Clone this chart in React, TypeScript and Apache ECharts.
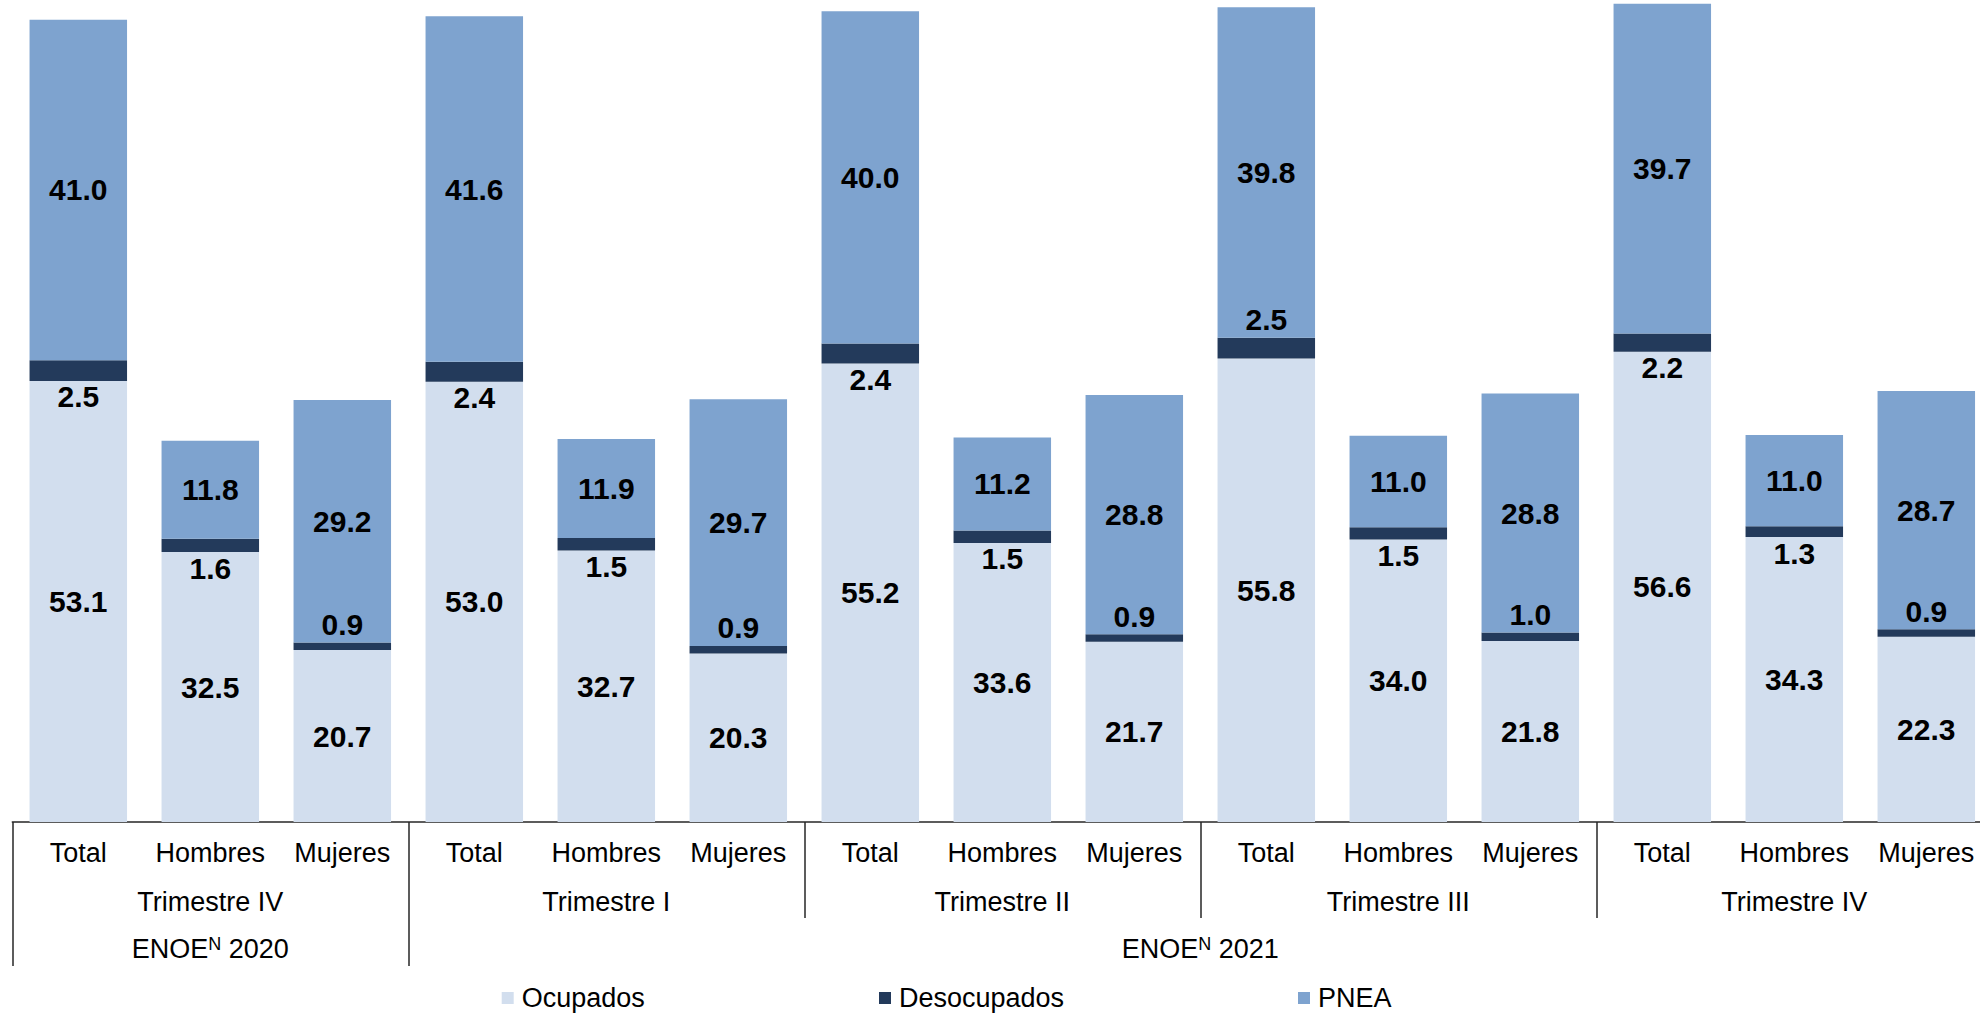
import React, { useEffect, useRef } from 'react';
import * as echarts from 'echarts';

// ---- data ----
const subgroups = ['Total', 'Hombres', 'Mujeres'];
const quarters = ['Trimestre IV', 'Trimestre I', 'Trimestre II', 'Trimestre III', 'Trimestre IV'];
const surveyYears = ['2020', '2021'];
const quartersPerYear = [1, 4];

const ocupados = [53.1, 32.5, 20.7, 53.0, 32.7, 20.3, 55.2, 33.6, 21.7, 55.8, 34.0, 21.8, 56.6, 34.3, 22.3];
const desocupados = [2.5, 1.6, 0.9, 2.4, 1.5, 0.9, 2.4, 1.5, 0.9, 2.5, 1.5, 1.0, 2.2, 1.3, 0.9];
const pnea = [41.0, 11.8, 29.2, 41.6, 11.9, 29.7, 40.0, 11.2, 28.8, 39.8, 11.0, 28.8, 39.7, 11.0, 28.7];
// where the Desocupados label sits relative to its thin bar
const desocupadosLabelAbove = [false, false, true, false, false, true, false, false, true, true, false, true, false, false, true];

const seriesNames = ['Ocupados', 'Desocupados', 'PNEA'];
const seriesColors = ['#D2DEEE', '#233A5B', '#7EA3CF'];

// ---- derived ----
const categories: string[] = [];
const quarterLabels: string[] = [];
quarters.forEach((q) => subgroups.forEach((s) => { categories.push(s); quarterLabels.push(q); }));
const nSub = subgroups.length;
const yearStarts: number[] = [];
const yearCenters: { c: number; label: string }[] = [];
{
  let acc = 0;
  surveyYears.forEach((y, i) => {
    const span = quartersPerYear[i] * nSub;
    yearStarts.push(acc);
    yearCenters.push({ c: acc + span / 2, label: y });
    acc += span;
  });
}

const FONT = '"Liberation Sans", Arial, Helvetica, sans-serif';
const LINE = '#262626';

const labelBase = {
  show: true,
  fontSize: 30,
  fontWeight: 'bold' as const,
  color: '#000',
  fontFamily: FONT,
  formatter: (p: any) => Number(p.value).toFixed(1),
};

const option: any = {
  animation: false,
  backgroundColor: '#ffffff',
  textStyle: { fontFamily: FONT },
  grid: { left: 12.3, top: 8, width: 1980, height: 814, outerBoundsMode: 'none', containLabel: false },
  yAxis: { type: 'value', min: 0, max: 98, show: false, splitLine: { show: false } },
  xAxis: [
    {
      type: 'category',
      data: categories,
      position: 'bottom',
      axisLine: { show: true, lineStyle: { color: LINE, width: 1.5 } },
      axisTick: {
        show: true,
        length: 144,
        interval: (i: number) => yearStarts.includes(i),
        lineStyle: { color: LINE, width: 1.5 },
      },
      axisLabel: { interval: 0, margin: 17, fontSize: 27, color: '#000', fontFamily: FONT },
      splitLine: { show: false },
    },
    {
      type: 'category',
      data: quarterLabels,
      position: 'bottom',
      axisLine: { show: false },
      axisTick: {
        show: true,
        length: 96,
        interval: (i: number) => i % nSub === 0 && !yearStarts.includes(i),
        lineStyle: { color: LINE, width: 1.5 },
      },
      axisLabel: {
        interval: (i: number) => i % nSub === Math.floor(nSub / 2),
        margin: 66,
        fontSize: 27,
        color: '#000',
        fontFamily: FONT,
      },
      splitLine: { show: false },
    },
    {
      type: 'value',
      min: 0,
      max: categories.length,
      interval: nSub / 2,
      position: 'bottom',
      axisLine: { show: false },
      axisTick: { show: false },
      splitLine: { show: false },
      axisLabel: {
        margin: 113,
        showMinLabel: true,
        showMaxLabel: true,
        formatter: (v: number) => {
          const f = yearCenters.find((y) => Math.abs(y.c - v) < 1e-6);
          return f ? `{a|ENOE}{s|N}{a| ${f.label}}` : '';
        },
        rich: {
          a: { fontSize: 27, color: '#000', fontFamily: FONT },
          s: { fontSize: 18, color: '#000', fontFamily: FONT, verticalAlign: 'top', padding: [0, 0, 6, 0] },
        },
      },
    },
  ],
  legend: seriesNames.map((n, i) => ({
    data: [n],
    left: [501.7, 879, 1298][i],
    top: 984.5,
    padding: 0,
    icon: 'rect',
    itemWidth: 12,
    itemHeight: 12,
    selectedMode: false,
    textStyle: { fontSize: 27, color: '#000', fontFamily: FONT, padding: [0, 0, 0, 3] },
  })),
  series: [
    {
      name: seriesNames[0],
      type: 'bar',
      stack: 'total',
      barWidth: 97.5,
      clip: false,
      data: ocupados,
      itemStyle: { color: seriesColors[0] },
      label: { ...labelBase, position: 'inside' },
    },
    {
      name: seriesNames[1],
      type: 'bar',
      stack: 'total',
      barWidth: 97.5,
      clip: false,
      data: desocupados.map((v, i) => ({
        value: v,
        label: desocupadosLabelAbove[i]
          ? { position: 'top', distance: 3 }
          : { position: 'bottom', distance: 1 },
      })),
      itemStyle: { color: seriesColors[1] },
      label: { ...labelBase },
    },
    {
      name: seriesNames[2],
      type: 'bar',
      stack: 'total',
      barWidth: 97.5,
      clip: false,
      data: pnea,
      itemStyle: { color: seriesColors[2] },
      label: { ...labelBase, position: 'inside' },
    },
  ],
};

export default function App() {
  const ref = useRef<HTMLDivElement>(null);
  useEffect(() => {
    const chart = echarts.init(ref.current!, null, { renderer: 'svg' });
    chart.setOption(option);
    return () => chart.dispose();
  }, []);
  return (
    <div
      ref={ref}
      style={{ position: 'absolute', left: 0, top: 0, width: 1980, height: 1014, background: '#fff' }}
    />
  );
}
